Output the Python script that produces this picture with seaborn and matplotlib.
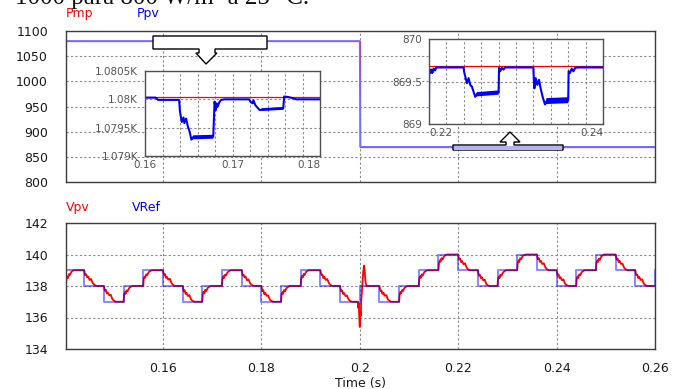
"""
PSIM-style waveforms: PV power (Pmp / Ppv) with two zoomed insets,
and PV voltage tracking (Vpv / VRef) during an irradiance step at t = 0.2 s.
"""
import matplotlib
matplotlib.use("Agg")
import numpy as np
import matplotlib.pyplot as plt
import seaborn as sns
from matplotlib.patches import Polygon, Rectangle
from matplotlib.ticker import MultipleLocator

# ---------------- data ----------------
T_START, T_END = 0.1403, 0.26

# Maximum available power (W)
PMP_T = [T_START, 0.2, 0.2, T_END]
PMP_V = [1080.04, 1080.04, 869.68, 869.68]

# PV power (W): t, value, ripple half-band
PPV_POINTS = [
    (0.1403, 1080.03, 0), (0.1612, 1080.03, 0), (0.1615, 1079.99, 0), (0.1639, 1079.99, 0),
    (0.1640, 1079.78, 0), (0.1642, 1079.60, 0), (0.1644, 1079.68, 0), (0.1645, 1079.58, 0),
    (0.1647, 1079.66, 0), (0.1649, 1079.52, 0), (0.1651, 1079.43, 0), (0.1653, 1079.29, 0),
    (0.1655, 1079.33, 0.035), (0.1678, 1079.34, 0.035),
    (0.16795, 1079.96, 0), (0.1681, 1079.81, 0), (0.1682, 1079.93, 0), (0.1683, 1079.87, 0),
    (0.1685, 1079.95, 0), (0.1687, 1079.99, 0), (0.1691, 1080.00, 0), (0.1719, 1080.00, 0),
    (0.1721, 1079.95, 0), (0.1723, 1079.93, 0), (0.1724, 1079.98, 0), (0.1726, 1079.90, 0),
    (0.1731, 1079.81, 0), (0.1734, 1079.82, 0.025), (0.1758, 1079.84, 0.025),
    (0.1759, 1080.05, 0), (0.1764, 1080.04, 0), (0.1769, 1080.02, 0), (0.1773, 1080.00, 0),
    (0.2000, 1080.00, 0), (0.2001, 869.665, 0), (0.2199, 869.665, 0),
    (0.2200, 869.27, 0), (0.22002, 869.65, 0), (0.22015, 869.60, 0), (0.2203, 869.64, 0),
    (0.22038, 869.60, 0), (0.22053, 869.65, 0), (0.2207, 869.63, 0), (0.22084, 869.665, 0),
    (0.2240, 869.665, 0), (0.22402, 869.62, 0), (0.22417, 869.56, 0), (0.22436, 869.48, 0),
    (0.22455, 869.54, 0), (0.22474, 869.46, 0), (0.22493, 869.44, 0), (0.22512, 869.38, 0),
    (0.22531, 869.32, 0), (0.2255, 869.35, 0.025), (0.2280, 869.37, 0.025),
    (0.22805, 869.66, 0), (0.22818, 869.62, 0), (0.22837, 869.66, 0), (0.22856, 869.64, 0),
    (0.22875, 869.665, 0), (0.2320, 869.665, 0), (0.23205, 869.52, 0), (0.23211, 869.42, 0),
    (0.23226, 869.54, 0), (0.23245, 869.46, 0), (0.23264, 869.52, 0), (0.23283, 869.42, 0),
    (0.23306, 869.32, 0), (0.23333, 869.23, 0), (0.23352, 869.27, 0.035), (0.2360, 869.28, 0.035),
    (0.23605, 869.62, 0), (0.2362, 869.60, 0), (0.2364, 869.65, 0), (0.2366, 869.62, 0),
    (0.2368, 869.66, 0), (0.2371, 869.665, 0), (0.2600, 869.665, 0),
]
PPV_T, PPV_V, PPV_R = (np.array(c) for c in zip(*PPV_POINTS))

# Voltage reference (V), step-post
VREF_T = [T_START, 0.144, 0.148, 0.152, 0.156, 0.160, 0.164, 0.168, 0.172, 0.176, 0.180,
          0.184, 0.188, 0.192, 0.196, 0.200, 0.204, 0.208, 0.212, 0.216, 0.220, 0.224,
          0.228, 0.232, 0.236, 0.240, 0.244, 0.248, 0.252, 0.256, 0.260]
VREF_V = [139, 138, 137, 138, 139, 138, 137, 138, 139, 138, 137,
          138, 139, 138, 137, 138, 137, 138, 139, 140, 139, 138,
          139, 140, 139, 138, 139, 140, 139, 138, 139]

# PV voltage (V)
VPV_POINTS = [
    (0.1403, 138.10), (0.1404, 138.50), (0.1406, 138.60), (0.1407, 138.50), (0.1409, 138.75), (0.1411, 138.70), (0.1414, 138.90), (0.1418, 139.00),
    (0.1440, 139.00), (0.1442, 138.68), (0.1444, 138.74), (0.1446, 138.55), (0.1448, 138.60), (0.1451, 138.38), (0.1454, 138.45), (0.1457, 138.20), (0.1460, 138.10), (0.1464, 138.00),
    (0.1480, 138.00), (0.1482, 137.70), (0.1484, 137.76), (0.1486, 137.52), (0.1488, 137.58), (0.1491, 137.40), (0.1494, 137.44), (0.1497, 137.18), (0.1500, 137.08), (0.1504, 137.00),
    (0.1520, 137.00), (0.1521, 137.45), (0.1523, 137.62), (0.1524, 137.50), (0.1526, 137.72), (0.1528, 137.66), (0.1531, 137.86), (0.1535, 137.96), (0.1538, 138.00),
    (0.1560, 138.00), (0.1561, 138.48), (0.1563, 138.60), (0.1564, 138.52), (0.1566, 138.74), (0.1568, 138.68), (0.1571, 138.88), (0.1575, 138.97), (0.1578, 139.00),
    (0.1600, 139.00), (0.1602, 138.70), (0.1604, 138.76), (0.1606, 138.52), (0.1608, 138.58), (0.1611, 138.40), (0.1614, 138.46), (0.1617, 138.22), (0.1620, 138.08), (0.1624, 138.00),
    (0.1640, 138.00), (0.1642, 137.66), (0.1644, 137.74), (0.1646, 137.50), (0.1648, 137.56), (0.1651, 137.36), (0.1654, 137.42), (0.1657, 137.16), (0.1660, 137.06), (0.1664, 137.00),
    (0.1680, 137.00), (0.1681, 137.50), (0.1683, 137.64), (0.1684, 137.52), (0.1686, 137.76), (0.1688, 137.68), (0.1691, 137.88), (0.1695, 137.97), (0.1698, 138.00),
    (0.1720, 138.00), (0.1721, 138.46), (0.1723, 138.62), (0.1724, 138.50), (0.1726, 138.72), (0.1728, 138.66), (0.1731, 138.86), (0.1735, 138.96), (0.1738, 139.00),
    (0.1760, 139.00), (0.1762, 138.66), (0.1764, 138.72), (0.1766, 138.54), (0.1768, 138.60), (0.1771, 138.36), (0.1774, 138.42), (0.1777, 138.18), (0.1780, 138.08), (0.1784, 138.00),
    (0.1800, 138.00), (0.1802, 137.68), (0.1804, 137.74), (0.1806, 137.48), (0.1808, 137.56), (0.1811, 137.38), (0.1814, 137.40), (0.1817, 137.14), (0.1820, 137.06), (0.1824, 137.00),
    (0.1840, 137.00), (0.1841, 137.48), (0.1843, 137.60), (0.1844, 137.50), (0.1846, 137.74), (0.1848, 137.66), (0.1851, 137.86), (0.1855, 137.96), (0.1858, 138.00),
    (0.1880, 138.00), (0.1881, 138.50), (0.1883, 138.64), (0.1884, 138.54), (0.1886, 138.76), (0.1888, 138.70), (0.1891, 138.90), (0.1895, 138.98), (0.1898, 139.00),
    (0.1920, 139.00), (0.1922, 138.70), (0.1924, 138.74), (0.1926, 138.50), (0.1928, 138.58), (0.1931, 138.38), (0.1934, 138.44), (0.1937, 138.20), (0.1940, 138.08), (0.1944, 138.00),
    (0.1960, 138.00), (0.1962, 137.66), (0.1964, 137.72), (0.1966, 137.50), (0.1968, 137.56), (0.1971, 137.36), (0.1974, 137.40), (0.1977, 137.16), (0.1980, 137.06), (0.1984, 137.00),
    (0.1996, 137.00), (0.1997, 136.60), (0.1998, 136.90), (0.1999, 136.00), (0.2000, 135.40), (0.2001, 136.40), (0.2002, 136.10), (0.2003, 137.00), (0.2005, 138.00),
    (0.2007, 138.90), (0.2009, 139.30), (0.2010, 139.00), (0.2011, 138.50), (0.2012, 138.20), (0.2014, 138.00),
    (0.2040, 138.00), (0.2042, 137.68), (0.2044, 137.72), (0.2046, 137.50), (0.2048, 137.58), (0.2051, 137.38), (0.2054, 137.42), (0.2057, 137.16), (0.2060, 137.06), (0.2064, 137.00),
    (0.2080, 137.00), (0.2081, 137.46), (0.2083, 137.62), (0.2084, 137.52), (0.2086, 137.74), (0.2088, 137.68), (0.2091, 137.88), (0.2095, 137.97), (0.2098, 138.00),
    (0.2120, 138.00), (0.2121, 138.50), (0.2123, 138.62), (0.2124, 138.52), (0.2126, 138.74), (0.2128, 138.66), (0.2131, 138.88), (0.2135, 138.97), (0.2138, 139.00),
    (0.2160, 139.00), (0.2161, 139.48), (0.2163, 139.64), (0.2164, 139.54), (0.2166, 139.76), (0.2168, 139.68), (0.2171, 139.88), (0.2175, 139.98), (0.2178, 140.00),
    (0.2200, 140.00), (0.2202, 139.68), (0.2204, 139.74), (0.2206, 139.52), (0.2208, 139.58), (0.2211, 139.38), (0.2214, 139.44), (0.2217, 139.18), (0.2220, 139.06), (0.2224, 139.00),
    (0.2240, 139.00), (0.2242, 138.66), (0.2244, 138.72), (0.2246, 138.50), (0.2248, 138.56), (0.2251, 138.36), (0.2254, 138.40), (0.2257, 138.14), (0.2260, 138.04), (0.2264, 138.00),
    (0.2280, 138.00), (0.2281, 138.48), (0.2283, 138.60), (0.2284, 138.50), (0.2286, 138.72), (0.2288, 138.66), (0.2291, 138.86), (0.2295, 138.96), (0.2298, 139.00),
    (0.2320, 139.00), (0.2321, 139.50), (0.2323, 139.64), (0.2324, 139.52), (0.2326, 139.76), (0.2328, 139.70), (0.2331, 139.90), (0.2335, 139.98), (0.2338, 140.00),
    (0.2360, 140.00), (0.2362, 139.70), (0.2364, 139.76), (0.2366, 139.54), (0.2368, 139.60), (0.2371, 139.40), (0.2374, 139.44), (0.2377, 139.20), (0.2380, 139.08), (0.2384, 139.00),
    (0.2400, 139.00), (0.2402, 138.66), (0.2404, 138.74), (0.2406, 138.50), (0.2408, 138.56), (0.2411, 138.36), (0.2414, 138.42), (0.2417, 138.16), (0.2420, 138.06), (0.2424, 138.00),
    (0.2440, 138.00), (0.2441, 138.46), (0.2443, 138.62), (0.2444, 138.50), (0.2446, 138.74), (0.2448, 138.68), (0.2451, 138.88), (0.2455, 138.97), (0.2458, 139.00),
    (0.2480, 139.00), (0.2481, 139.48), (0.2483, 139.62), (0.2484, 139.52), (0.2486, 139.74), (0.2488, 139.66), (0.2491, 139.88), (0.2495, 139.98), (0.2498, 140.00),
    (0.2520, 140.00), (0.2522, 139.68), (0.2524, 139.74), (0.2526, 139.52), (0.2528, 139.60), (0.2531, 139.40), (0.2534, 139.42), (0.2537, 139.18), (0.2540, 139.06), (0.2544, 139.00),
    (0.2560, 139.00), (0.2562, 138.68), (0.2564, 138.72), (0.2566, 138.50), (0.2568, 138.58), (0.2571, 138.38), (0.2574, 138.42), (0.2577, 138.16), (0.2580, 138.06), (0.2584, 138.00),
    (0.2600, 138.00),
]
VPV_T, VPV_V = (np.array(c) for c in zip(*VPV_POINTS))

# ticks / labels
TIME_TICKS = [0.16, 0.18, 0.2, 0.22, 0.24, 0.26]
TIME_LABELS = ['0.16', '0.18', '0.2', '0.22', '0.24', '0.26']
P_TICKS = [800, 850, 900, 950, 1000, 1050, 1100]
V_TICKS = [134, 136, 138, 140, 142]
INSET1_YTICKS = [1079, 1079.5, 1080, 1080.5]
INSET1_YLABELS = ['1.079K', '1.0795K', '1.08K', '1.0805K']
INSET1_XTICKS = [0.16, 0.17, 0.18]
INSET2_YTICKS = [869, 869.5, 870]
INSET2_YLABELS = ['869', '869.5', '870']
INSET2_XTICKS = [0.22, 0.24]
CAPTION = "1000 para 800 W/m\u00b2 a 25 \u00b0C."

RED, BLUE = '#ff0000', '#0000ff'

# ---------------- figure ----------------
sns.set_theme(style="white")
plt.rcParams['font.family'] = ['DejaVu Sans']

W, H = 681, 389
fig = plt.figure(figsize=(W / 100, H / 100), dpi=100)


def px_box(left, top, right, bottom):
    """Axes rectangle from pixel edges (origin top-left)."""
    return [left / W, 1 - bottom / H, (right - left) / W, (bottom - top) / H]


def px(x, y):
    return (x / W, 1 - y / H)


def style_axes(ax, edge='#3c3c3c', lab='#1a1a1a', size=9, pad=13):
    for s in ax.spines.values():
        s.set_visible(True)
        s.set_color(edge)
        s.set_linewidth(1.0)
    ax.set_axisbelow(True)
    ax.grid(True, which='both', color='#8a8a8a', linestyle=(0, (2, 2)), linewidth=0.8)
    ax.tick_params(which='both', length=0, labelsize=size, labelcolor=lab, pad=pad)
    ax.set_xlabel('')
    ax.set_ylabel('')


def draw_power(ax, blue, lw):
    sns.lineplot(x=PMP_T, y=PMP_V, ax=ax, color=RED, lw=0.9, estimator=None, sort=False)
    ax.fill_between(PPV_T, PPV_V - PPV_R, PPV_V + PPV_R, color=blue, lw=0)
    sns.lineplot(x=PPV_T, y=PPV_V, ax=ax, color=blue, lw=lw, estimator=None, sort=False)


# --- top: power
ax_p = fig.add_axes(px_box(66, 31, 655, 182))
draw_power(ax_p, '#7070ff', 1.3)
ax_p.set_xlim(T_START, T_END)
ax_p.set_ylim(800, 1100)
ax_p.set_xticks(TIME_TICKS)
ax_p.set_yticks(P_TICKS)
style_axes(ax_p)
ax_p.tick_params(labelbottom=False)

# --- bottom: voltage
ax_v = fig.add_axes(px_box(66, 223, 655, 349))
sns.lineplot(x=VPV_T, y=VPV_V, ax=ax_v, color=RED, lw=1.3, estimator=None, sort=False)
sns.lineplot(x=VREF_T, y=VREF_V, ax=ax_v, color=BLUE, lw=1.5, alpha=0.45,
             drawstyle='steps-post', estimator=None, sort=False)
ax_v.set_xlim(T_START, T_END)
ax_v.set_ylim(134, 142)
ax_v.set_xticks(TIME_TICKS)
ax_v.set_xticklabels(TIME_LABELS)
ax_v.set_yticks(V_TICKS)
style_axes(ax_v)
ax_v.tick_params(axis='x', pad=9)
ax_v.set_xlabel('Time (s)', fontsize=9, color='#1a1a1a', labelpad=2)

# --- inset 1: 0.16 - 0.18 s
ax_i1 = fig.add_axes(px_box(145, 71, 320, 156))
draw_power(ax_i1, BLUE, 1.5)
ax_i1.set_xlim(0.16, 0.18)
ax_i1.set_ylim(1079, 1080.5)
ax_i1.set_xticks(INSET1_XTICKS)
ax_i1.set_xticklabels([f'{t:g}' for t in INSET1_XTICKS])
ax_i1.xaxis.set_minor_locator(MultipleLocator(0.002))
ax_i1.set_yticks(INSET1_YTICKS)
ax_i1.set_yticklabels(INSET1_YLABELS)
style_axes(ax_i1, edge='#505050', lab='#555555', size=7.5, pad=5)
ax_i1.tick_params(axis='x', pad=3)
ax_i1.get_xticklabels()[-1].set_ha('right')

# --- inset 2: 0.22 - 0.24 s
ax_i2 = fig.add_axes(px_box(429, 39, 603, 124))
draw_power(ax_i2, BLUE, 1.5)
ax_i2.set_xlim(0.22, 0.24)
ax_i2.set_ylim(869, 870)
ax_i2.set_xticks(INSET2_XTICKS)
ax_i2.set_xticklabels([f'{t:g}' for t in INSET2_XTICKS])
ax_i2.xaxis.set_minor_locator(MultipleLocator(0.002))
ax_i2.set_yticks(INSET2_YTICKS)
ax_i2.set_yticklabels(INSET2_YLABELS)
style_axes(ax_i2, edge='#505050', lab='#555555', size=7.5, pad=5)
ax_i2.tick_params(axis='x', pad=3)
ax_i2.get_xticklabels()[0].set_ha('left')
ax_i2.get_xticklabels()[-1].set_ha('right')

# --- callout arrows
call1 = [(153, 36), (267, 36), (267, 49), (215, 49), (215, 53), (217, 53), (206, 64),
         (196, 53), (199, 53), (199, 49), (153, 49)]
fig.add_artist(Polygon([px(x, y) for x, y in call1], closed=True, transform=fig.transFigure,
                       facecolor='white', edgecolor='black', lw=1.0))
call2 = [(453, 145), (506, 145), (506, 142), (500, 142), (510, 132), (520, 142), (514, 142),
         (514, 145), (563, 145), (563, 150), (453, 150)]
fig.add_artist(Polygon([px(x, y) for x, y in call2], closed=True, transform=fig.transFigure,
                       facecolor='white', edgecolor='black', lw=1.0))
fig.add_artist(Rectangle(px(454, 149.5), 108 / W, 4 / H, transform=fig.transFigure,
                         facecolor='#b4b4f2', edgecolor='none'))

# --- signal names
fig.text(66 / W, 1 - 14 / H, 'Pmp', color=RED, fontsize=9, va='center')
fig.text(137 / W, 1 - 14 / H, 'Ppv', color=BLUE, fontsize=9, va='center')
fig.text(66 / W, 1 - 207 / H, 'Vpv', color=RED, fontsize=9, va='center')
fig.text(132 / W, 1 - 207 / H, 'VRef', color=BLUE, fontsize=9, va='center')

# --- caption cut by the crop (as in the source screenshot)
fig.text(15 / W, 1 - 4 / H, CAPTION, family=['Liberation Serif', 'DejaVu Serif'],
         fontsize=18, va='baseline', color='#111111')

fig.savefig('out.png', dpi=100)
plt.close(fig)
